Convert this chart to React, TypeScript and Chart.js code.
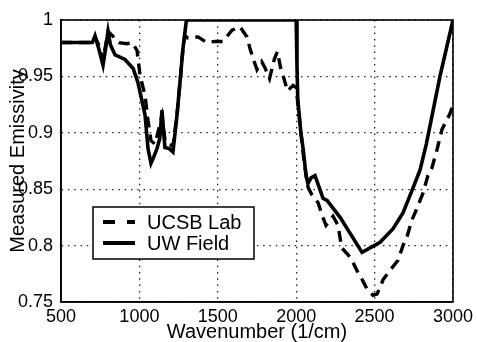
import React, { useEffect, useRef } from "react";
import { Chart, registerables } from "chart.js";

Chart.register(...registerables);

// ---- Data ----
const xTicks = [500, 1000, 1500, 2000, 2500, 3000];
const xTickLabels = ["500", "1000", "1500", "2000", "2500", "3000"];
const yTicks = [0.75, 0.8, 0.85, 0.9, 0.95, 1];
const yTickLabels = ["0.75", "0.8", "0.85", "0.9", "0.95", "1"];

const seriesNames = ["UCSB Lab", "UW Field"];

const uwWavenumber = [
  500, 600, 700, 717, 740, 768, 785, 800, 815, 845, 908, 960, 990, 1036, 1055,
  1074, 1090, 1112, 1130, 1144, 1155, 1163, 1190, 1214, 1240, 1259, 1278, 1300,
  2000, 2005, 2010, 2030, 2045, 2063, 2075, 2095, 2120, 2171, 2197, 2280, 2420,
  2535, 2618, 2681, 2739, 2790, 2830, 2917, 3000,
];
const uwEmissivity = [
  0.98, 0.98, 0.98, 0.986, 0.975, 0.96, 0.975, 0.99, 0.978, 0.969, 0.965, 0.957,
  0.945, 0.916, 0.886, 0.873, 0.878, 0.886, 0.895, 0.92, 0.9, 0.887, 0.886,
  0.883, 0.916, 0.945, 0.975, 1.0, 1.0, 0.96, 0.93, 0.9, 0.885, 0.862, 0.855,
  0.86, 0.862, 0.842, 0.84, 0.825, 0.794, 0.803, 0.815, 0.829, 0.849, 0.867,
  0.89, 0.95, 1.0,
];

const labWavenumber = [
  500, 600, 700, 717, 740, 768, 785, 800, 835, 870, 920, 955, 985, 1004, 1036,
  1055, 1074, 1100, 1144, 1165, 1214, 1240, 1259, 1278, 1291, 1310, 1374, 1431,
  1482, 1533, 1591, 1642, 1686, 1705, 1725, 1750, 1780, 1800, 1830, 1860, 1880,
  1900, 1920, 1945, 1980, 2000, 2030, 2050, 2075, 2100, 2140, 2165, 2190, 2235,
  2267, 2290, 2330, 2356, 2394, 2420, 2450, 2490, 2515, 2535, 2555, 2598, 2650,
  2681, 2707, 2739, 2758, 2790, 2810, 2840, 2866, 2898, 2930, 2981, 3000,
];
const labEmissivity = [
  0.98, 0.98, 0.98, 0.985, 0.978, 0.964, 0.978, 0.99, 0.985, 0.98, 0.979, 0.98,
  0.973, 0.951, 0.933, 0.911, 0.893, 0.89, 0.915, 0.892, 0.888, 0.916, 0.945,
  0.975, 0.986, 0.984, 0.985, 0.98, 0.981, 0.981, 0.991, 0.994, 0.985, 0.975,
  0.966, 0.956, 0.963, 0.958, 0.948, 0.965, 0.972, 0.958, 0.949, 0.937, 0.942,
  0.94, 0.9, 0.875, 0.852, 0.845, 0.838, 0.827, 0.818, 0.826, 0.818, 0.798,
  0.792, 0.787, 0.776, 0.77, 0.762, 0.756, 0.757, 0.763, 0.77, 0.778, 0.787,
  0.8, 0.808, 0.823, 0.829, 0.84, 0.847, 0.862, 0.869, 0.885, 0.903, 0.917,
  0.925,
];

const FONT = "'Liberation Sans', Arial, Helvetica, sans-serif";

const boxAndLegend = {
  id: "boxAndLegend",
  afterDraw(chart: any) {
    const { ctx, chartArea } = chart;
    const { left, right, top, bottom } = chartArea;
    ctx.save();
    // axes box
    ctx.strokeStyle = "#000";
    ctx.lineWidth = 1.6;
    ctx.setLineDash([]);
    ctx.strokeRect(left, top, right - left, bottom - top);

    // legend (inside plot)
    const lx = 93, ly = 207, lw = 161, lh = 52;
    ctx.fillStyle = "#fff";
    ctx.fillRect(lx, ly, lw, lh);
    ctx.lineWidth = 1.5;
    ctx.strokeRect(lx, ly, lw, lh);

    const rows = [
      { y: 222, dash: [12, 12], text: seriesNames[0] },
      { y: 243, dash: [], text: seriesNames[1] },
    ];
    ctx.font = `20px ${FONT}`;
    ctx.textBaseline = "middle";
    ctx.textAlign = "left";
    rows.forEach((r) => {
      ctx.beginPath();
      ctx.setLineDash(r.dash);
      ctx.lineWidth = 4;
      ctx.strokeStyle = "#000";
      ctx.moveTo(103, r.y);
      ctx.lineTo(135, r.y);
      ctx.stroke();
      ctx.setLineDash([]);
      ctx.fillStyle = "#000";
      ctx.fillText(r.text, 147, r.y + 1);
    });
    ctx.restore();
  },
};

export default function App() {
  const canvasRef = useRef<HTMLCanvasElement | null>(null);

  useEffect(() => {
    const canvas = canvasRef.current;
    if (!canvas) return;
    const chart = new Chart(canvas, {
      type: "line",
      data: {
        datasets: [
          {
            label: seriesNames[1],
            data: uwWavenumber.map((x, i) => ({ x, y: uwEmissivity[i] })),
            borderColor: "#000",
            borderWidth: 3.6,
            pointRadius: 0,
            tension: 0,
            fill: false,
          },
          {
            label: seriesNames[0],
            data: labWavenumber.map((x, i) => ({ x, y: labEmissivity[i] })),
            borderColor: "#000",
            borderWidth: 3.4,
            borderDash: [11, 7],
            pointRadius: 0,
            tension: 0,
            fill: false,
          },
        ],
      },
      options: {
        animation: false,
        responsive: false,
        maintainAspectRatio: false,
        layout: { padding: { left: 0, right: 24, top: 20, bottom: 0 } },
        plugins: {
          legend: { display: false },
          tooltip: { enabled: false },
          title: { display: false },
        },
        scales: {
          x: {
            type: "linear",
            min: 500,
            max: 3000,
            afterBuildTicks: (scale: any) => {
              scale.ticks = xTicks.map((v) => ({ value: v }));
            },
            afterFit: (scale: any) => {
              scale.height = 40;
            },
            ticks: {
              autoSkip: false,
              maxRotation: 0,
              padding: 4,
              color: "#000",
              font: { family: FONT, size: 18 },
              callback: (v: any) => xTickLabels[xTicks.indexOf(Number(v))] ?? "",
            },
            grid: {
              drawTicks: false,
              color: "#222",
              lineWidth: 1.3,
            },
            border: { display: true, color: "#000", width: 1.6, dash: [1.5, 4.8] },
            title: {
              display: true,
              text: "Wavenumber (1/cm)",
              color: "#000",
              font: { family: FONT, size: 20, lineHeight: 1 },
              padding: { top: 0, bottom: 0 },
            },
          },
          y: {
            type: "linear",
            min: 0.75,
            max: 1,
            afterBuildTicks: (scale: any) => {
              scale.ticks = yTicks.map((v) => ({ value: v }));
            },
            afterFit: (scale: any) => {
              scale.width = 61;
            },
            ticks: {
              padding: 8,
              color: "#000",
              font: { family: FONT, size: 18 },
              callback: (v: any) => {
                const idx = yTicks.findIndex((t) => Math.abs(t - Number(v)) < 1e-6);
                return idx >= 0 ? yTickLabels[idx] : "";
              },
            },
            grid: {
              drawTicks: false,
              color: "#222",
              lineWidth: 1.3,
            },
            border: { display: true, color: "#000", width: 1.6, dash: [1.5, 4.8] },
            title: {
              display: true,
              text: "Measured Emissivity",
              color: "#000",
              font: { family: FONT, size: 20, lineHeight: 1 },
              padding: { top: 8, bottom: 0 },
            },
          },
        },
      },
      plugins: [boxAndLegend],
    });
    return () => chart.destroy();
  }, []);

  return (
    <div style={{ position: "absolute", left: 0, top: 0, width: 477, height: 342, background: "#fff" }}>
      <canvas ref={canvasRef} width={477} height={342} style={{ width: 477, height: 342 }} />
    </div>
  );
}
